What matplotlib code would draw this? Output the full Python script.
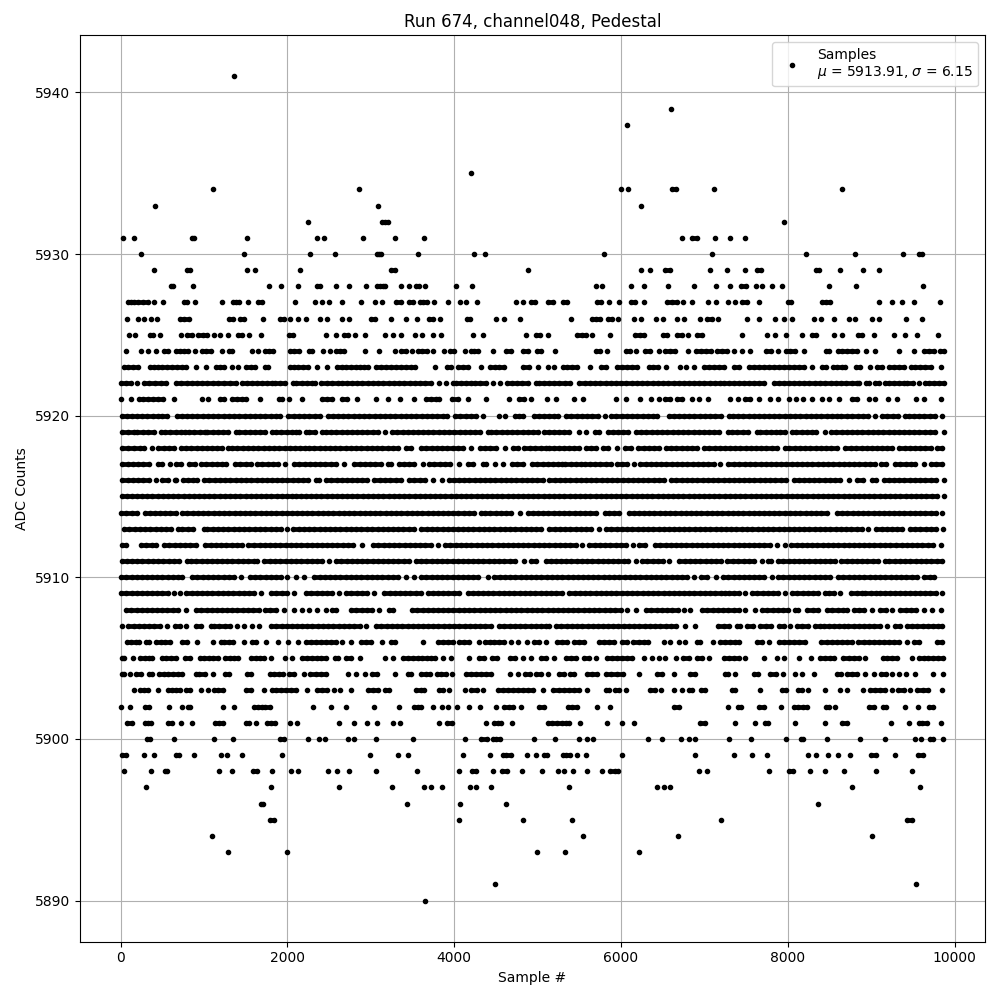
#!/usr/bin/env python3
"""Pedestal samples for channel048, run 674. ADC counts are integers, so samples are kept per level."""
import matplotlib
matplotlib.use("Agg")
import matplotlib.pyplot as plt

# ── Sample numbers, one list per ADC level ────────────────────────────────────
# Outer levels
s5941 = [1364]
s5939 = [6600]
s5938 = [6072]
s5935 = [4196]
s5934 = [1112, 2864, 6000, 6084, 6612, 6664, 7116, 8652]
s5933 = [416, 3080, 6240]
s5932 = [2252, 3128, 3164, 3200, 7956]
s5931 = [32, 164, 852, 880, 1520, 2360, 2444, 2912, 3284, 3632, 6732, 6852, 6912, 7128, 7308, 7488]
s5930 = [248, 1484, 2276, 2576, 3068, 3092, 3120, 3560, 4232, 4364, 5796, 7092, 8220, 8808, 9384, 9576, 9612]
s5929 = [404, 800, 836, 1520, 1616, 2156, 3236, 3284, 4880, 6240, 6348, 6528, 6588, 7068, 7272, 7488, 7632,
         7680, 8340, 8372, 8628, 8904, 9096]
s5928 = [608, 628, 872, 1784, 1928, 2132, 2360, 2396, 2588, 2744, 2948, 3068, 3104, 3140, 3164, 3356, 3452,
         3540, 3572, 3644, 4016, 4208, 5700, 5772, 6120, 6276, 6564, 6876, 7140, 7308, 7440, 7500, 7620, 7692,
         7812, 7932, 8496, 8820, 9624]
s5927 = [92, 128, 164, 212, 272, 332, 404, 512, 764, 800, 888, 1220, 1352, 1388, 1424, 1532, 1652, 1700, 2096,
         2336, 2420, 2504, 2660, 2888, 3044, 3128, 3296, 3356, 3452, 3500, 3584, 3620, 3668, 3752, 3920, 4064,
         4136, 4268, 4736, 4820, 4916, 4964, 5120, 5180, 5300, 5348, 5712, 5760, 5856, 5976, 6120, 6168, 6276,
         6552, 6612, 6672, 6744, 6852, 7044, 7140, 7284, 7368, 7452, 7512, 7656, 8004, 8040, 8412, 8460, 8508,
         9096, 9252, 9372, 9516, 9828]
s5926 = [80, 212, 284, 368, 440, 716, 764, 824, 1304, 1352, 1436, 1484, 1712, 1916, 1964, 2036, 2132, 2228, 2396,
         2480, 2660, 2744, 2996, 3044, 3236, 3416, 3548, 3692, 3740, 3824, 4148, 4184, 4496, 4592, 4784, 5400,
         5652, 5700, 5748, 5844, 5892, 5964, 6156, 6240, 6420, 6504, 6672, 6756, 6948, 7032, 7092, 7164, 7512,
         7656, 7848, 7956, 8052, 8316, 8400, 8556, 8736, 8808, 9012, 9096, 9420, 9612]
s5925 = [104, 176, 356, 392, 476, 728, 800, 860, 932, 992, 1040, 1124, 1196, 1292, 1412, 1460, 1544, 1688, 2024,
         2072, 2468, 2588, 2684, 2732, 2816, 2936, 3164, 3260, 3356, 3524, 3608, 3740, 3836, 4220, 4340, 4856,
         4976, 5024, 5120, 5472, 5532, 5580, 5652, 5868, 6168, 6228, 6276, 6504, 6552, 6672, 6732, 6804, 6912,
         6972, 7452, 7752, 7848, 7980, 8172, 8292, 8340, 8556, 8652, 8844, 8892, 9036, 9276, 9408, 9552, 9804]
s5924 = [64, 248, 332, 428, 524, 572, 668, 716, 764, 812, 896, 980, 1028, 1088, 1220, 1304, 1340, 1580, 1652,
         1736, 1784, 1832, 2036, 2084, 2144, 2264, 2300, 2432, 2516, 2588, 2636, 2684, 2936, 3092, 3284, 3356,
         3416, 3488, 3560, 3608, 3668, 3740, 3872, 3944, 3992, 4124, 4196, 4232, 4280, 4460, 4616, 4676, 4820,
         4880, 4988, 5036, 5204, 5700, 5748, 5832, 6060, 6108, 6180, 6288, 6348, 6456, 6528, 6588, 6648, 6804,
         6900, 6960, 7020, 7080, 7152, 7212, 7272, 7356, 7452, 7548, 7740, 7800, 7884, 7980, 8028, 8092, 8196,
         8460, 8496, 8604, 8652, 8712, 8772, 8832, 8940, 9048, 9336, 9516, 9636, 9696, 9756, 9828, 9868]
s5923 = [40, 92, 152, 212, 352, 400, 452, 500, 560, 620, 680, 740, 780, 908, 1028, 1148, 1196, 1244, 1340, 1412,
         1508, 1560, 1612, 1728, 1772, 2032, 2080, 2132, 2188, 2252, 2360, 2472, 2600, 2652, 2708, 2760, 2820,
         2868, 2920, 2972, 3060, 3120, 3180, 3240, 3300, 3360, 3420, 3480, 3532, 3764, 3908, 3956, 4040, 4100,
         4160, 4316, 4428, 4484, 4540, 4592, 4828, 4892, 5004, 5120, 5192, 5300, 5352, 5412, 5472, 5628, 5756,
         5820, 5948, 6012, 6072, 6132, 6192, 6332, 6380, 6444, 6540, 6708, 6780, 6876, 6996, 7052, 7116, 7172,
         7236, 7352, 7412, 7532, 7592, 7652, 7712, 7772, 7832, 7892, 7952, 8012, 8072, 8132, 8192, 8292, 8412,
         8460, 8540, 8592, 8652, 8692, 8820, 8872, 8988, 9072, 9132, 9212, 9272, 9332, 9392, 9476, 9532, 9592,
         9652, 9712, 9832]
s5921 = [0, 128, 220, 272, 332, 392, 452, 508, 640, 972, 1052, 1188, 1240, 1340, 1400, 1460, 1500, 1676, 1900,
         1940, 2024, 2180, 2420, 2480, 2532, 2660, 2720, 2840, 3056, 3200, 3344, 3512, 3660, 3720, 3780, 3820,
         3972, 4040, 4160, 4376, 4652, 4772, 4832, 4920, 5108, 5220, 5436, 5544, 5940, 6060, 6228, 6360, 6460,
         6532, 6592, 6672, 6732, 6852, 6940, 7044, 7308, 7404, 7492, 7552, 7660, 7788, 7884, 8012, 8100, 8184,
         8288, 8412, 8492, 8620, 8772, 8832, 8972, 9052, 9204, 9312, 9540, 9636, 9840]

# Dense levels, where the dots overlap into strips
s5922 = [0, 60, 120, 200, 280, 340, 410, 480, 540, 660, 725, 790, 850, 915, 980, 1040, 1105, 1170, 1240, 1310, 1380,
         1452, 1520, 1580, 1640, 1700, 1760, 1812, 1848, 1910, 1970, 2072, 2108, 2170, 2235, 2300, 2328, 2400, 2470,
         2540, 2608, 2652, 2715, 2780, 2840, 2900, 2965, 3030, 3090, 3150, 3215, 3280, 3340, 3400, 3465, 3530, 3590,
         3650, 3720, 3820, 3900, 3980, 4020, 4080, 4140, 4200, 4248, 4310, 4380, 4460, 4548, 4628, 4690, 4750, 4815,
         4880, 4980, 5012, 5075, 5140, 5200, 5260, 5325, 5392, 5500, 5565, 5630, 5690, 5750, 5815, 5880, 5940, 6000,
         6065, 6130, 6190, 6250, 6315, 6380, 6440, 6500, 6565, 6630, 6690, 6750, 6815, 6880, 6940, 7000, 7065, 7130,
         7192, 7232, 7295, 7360, 7420, 7480, 7540, 7600, 7660, 7712, 7840, 7900, 7960, 8020, 8072, 8135, 8200, 8260,
         8325, 8392, 8452, 8515, 8580, 8640, 8700, 8765, 8832, 8852, 8940, 8980, 9052, 9100, 9172, 9220, 9280, 9340,
         9392, 9432, 9500, 9575, 9652, 9692, 9755, 9815, 9868]
s5920 = [12, 75, 140, 200, 260, 320, 385, 450, 500, 556, 672, 735, 800, 860, 920, 985, 1050, 1110, 1170, 1235, 1300,
         1360, 1420, 1485, 1550, 1610, 1670, 1735, 1800, 1860, 1908, 2012, 2075, 2140, 2200, 2260, 2325, 2388, 2484,
         2545, 2610, 2670, 2730, 2795, 2860, 2920, 2980, 3045, 3110, 3170, 3230, 3295, 3360, 3420, 3480, 3545, 3610,
         3670, 3730, 3795, 3860, 3908, 4012, 4075, 4140, 4200, 4260, 4348, 4532, 4608, 4732, 4780, 4828, 4952, 5015,
         5080, 5140, 5200, 5244, 5344, 5405, 5470, 5530, 5590, 5655, 5720, 5812, 5884, 5945, 6010, 6070, 6130, 6195,
         6260, 6320, 6380, 6432, 6572, 6635, 6700, 6752, 6820, 6880, 6945, 7010, 7070, 7130, 7195, 7292, 7340, 7400,
         7465, 7530, 7590, 7650, 7715, 7780, 7840, 7900, 7965, 8030, 8090, 8150, 8215, 8280, 8340, 8400, 8465, 8530,
         8590, 8644, 8712, 8775, 8840, 8900, 8960, 9052, 9132, 9195, 9260, 9320, 9412, 9452, 9515, 9580, 9640, 9700,
         9765, 9852]
s5919 = [20, 90, 160, 200, 265, 330, 400, 480, 532, 595, 660, 720, 772, 820, 885, 950, 1012, 1040, 1105, 1170, 1230,
         1290, 1380, 1420, 1485, 1550, 1610, 1670, 1735, 1820, 1860, 1925, 1990, 2050, 2100, 2140, 2220, 2260, 2325,
         2420, 2460, 2520, 2585, 2650, 2710, 2770, 2835, 2900, 2960, 3020, 3085, 3172, 3252, 3315, 3380, 3440, 3500,
         3565, 3630, 3690, 3750, 3815, 3880, 3940, 4000, 4065, 4130, 4190, 4250, 4315, 4400, 4440, 4505, 4570, 4630,
         4690, 4755, 4820, 4880, 4940, 5005, 5080, 5132, 5195, 5260, 5320, 5372, 5492, 5580, 5692, 5740, 5844, 5905,
         5970, 6030, 6084, 6180, 6240, 6305, 6370, 6430, 6490, 6555, 6620, 6680, 6740, 6805, 6870, 6930, 6990, 7055,
         7120, 7180, 7284, 7332, 7395, 7460, 7520, 7632, 7672, 7735, 7800, 7860, 7912, 7972, 8052, 8100, 8165, 8230,
         8292, 8340, 8444, 8516, 8580, 8645, 8710, 8770, 8830, 8895, 8960, 9020, 9080, 9145, 9210, 9270, 9330, 9395,
         9460, 9520, 9580, 9645, 9710, 9770, 9872]
s5918 = [20, 90, 160, 228, 280, 380, 452, 515, 580, 640, 720, 780, 845, 910, 970, 1030, 1095, 1160, 1220, 1292, 1340,
         1400, 1465, 1530, 1590, 1650, 1715, 1780, 1840, 1900, 1965, 2030, 2090, 2150, 2215, 2260, 2320, 2385, 2450,
         2510, 2570, 2635, 2700, 2760, 2820, 2885, 2950, 3010, 3070, 3135, 3200, 3260, 3320, 3420, 3480, 3600, 3665,
         3730, 3790, 3850, 3915, 3980, 4040, 4100, 4200, 4308, 4370, 4435, 4500, 4612, 4700, 4760, 4840, 4905, 4970,
         5040, 5100, 5140, 5200, 5252, 5320, 5380, 5440, 5500, 5580, 5640, 5700, 5780, 5845, 5952, 6052, 6115, 6204,
         6272, 6335, 6400, 6460, 6540, 6604, 6665, 6730, 6795, 6855, 6915, 6992, 7060, 7125, 7190, 7250, 7310, 7372,
         7432, 7495, 7560, 7620, 7680, 7745, 7810, 7870, 7972, 8020, 8085, 8150, 8210, 8270, 8335, 8400, 8460, 8520,
         8585, 8692, 8756, 8820, 8885, 8945, 9005, 9070, 9135, 9195, 9255, 9340, 9404, 9465, 9530, 9590, 9650, 9715,
         9792, 9852]
s5917 = [20, 85, 150, 210, 270, 340, 452, 492, 588, 660, 725, 820, 888, 960, 1025, 1090, 1150, 1210, 1268, 1372,
         1435, 1500, 1560, 1640, 1700, 1765, 1830, 1890, 1968, 2076, 2140, 2205, 2265, 2325, 2390, 2455, 2520, 2588,
         2680, 2800, 2865, 2930, 2990, 3050, 3120, 3200, 3240, 3332, 3395, 3460, 3520, 3620, 3700, 3760, 3825, 3890,
         3950, 4052, 4160, 4225, 4340, 4380, 4488, 4588, 4692, 4755, 4820, 4932, 4995, 5060, 5120, 5180, 5240, 5292,
         5332, 5395, 5460, 5520, 5572, 5624, 5685, 5750, 5815, 5875, 5952, 6012, 6075, 6152, 6232, 6295, 6360, 6420,
         6480, 6545, 6610, 6670, 6730, 6795, 6860, 6920, 6980, 7045, 7110, 7192, 7284, 7350, 7420, 7484, 7545, 7610,
         7675, 7735, 7795, 7860, 7925, 7985, 8045, 8110, 8175, 8235, 8295, 8360, 8425, 8485, 8545, 8610, 8675, 8735,
         8795, 8860, 8925, 8985, 9045, 9124, 9180, 9284, 9352, 9415, 9480, 9524, 9632, 9712, 9780, 9844]
s5916 = [20, 85, 150, 210, 270, 335, 420, 500, 570, 652, 668, 748, 810, 870, 920, 1000, 1065, 1130, 1190, 1250, 1315,
         1380, 1440, 1500, 1565, 1630, 1690, 1750, 1815, 1880, 1940, 2000, 2065, 2130, 2190, 2250, 2340, 2380, 2460,
         2525, 2590, 2650, 2710, 2775, 2840, 2900, 2960, 3040, 3108, 3170, 3235, 3300, 3360, 3460, 3520, 3588, 3650,
         3748, 3848, 3932, 3995, 4060, 4120, 4180, 4245, 4310, 4370, 4430, 4495, 4560, 4620, 4680, 4745, 4810, 4870,
         4930, 4995, 5060, 5140, 5205, 5270, 5330, 5390, 5455, 5520, 5580, 5640, 5705, 5770, 5832, 5892, 5955, 6020,
         6080, 6140, 6205, 6270, 6330, 6390, 6455, 6512, 6604, 6665, 6730, 6790, 6850, 6915, 6980, 7040, 7100, 7165,
         7230, 7290, 7350, 7415, 7480, 7540, 7600, 7665, 7730, 7790, 7850, 7915, 7980, 8072, 8132, 8195, 8260, 8320,
         8380, 8445, 8510, 8570, 8630, 8732, 8832, 8900, 9012, 9060, 9152, 9215, 9280, 9340, 9400, 9465, 9530, 9590,
         9650, 9715, 9780, 9872]
s5915 = [12, 72, 135, 195, 258, 320, 380, 445, 505, 568, 630, 690, 755, 815, 878, 940, 1000, 1065, 1125, 1188, 1250,
         1310, 1375, 1435, 1498, 1560, 1620, 1685, 1745, 1808, 1870, 1930, 1995, 2050, 2100, 2160, 2222, 2285, 2345,
         2408, 2470, 2530, 2595, 2655, 2718, 2780, 2840, 2905, 2965, 3028, 3090, 3150, 3215, 3275, 3338, 3400, 3460,
         3525, 3585, 3648, 3710, 3770, 3835, 3895, 3958, 4020, 4080, 4145, 4205, 4268, 4330, 4390, 4455, 4515, 4578,
         4640, 4700, 4765, 4825, 4888, 4950, 5010, 5075, 5135, 5198, 5260, 5320, 5385, 5445, 5508, 5570, 5630, 5695,
         5755, 5818, 5880, 5940, 6005, 6065, 6128, 6190, 6250, 6315, 6375, 6438, 6500, 6560, 6625, 6685, 6748, 6810,
         6870, 6935, 6995, 7058, 7120, 7180, 7245, 7305, 7368, 7430, 7490, 7555, 7615, 7678, 7740, 7800, 7865, 7925,
         7988, 8050, 8110, 8175, 8235, 8298, 8360, 8420, 8485, 8545, 8608, 8670, 8730, 8795, 8855, 8918, 8980, 9040,
         9105, 9165, 9228, 9290, 9350, 9415, 9475, 9538, 9600, 9660, 9725, 9785, 9872]
s5914 = [0, 68, 130, 195, 292, 348, 410, 475, 535, 595, 660, 740, 800, 865, 930, 990, 1050, 1115, 1180, 1240, 1300,
         1365, 1430, 1490, 1550, 1615, 1680, 1740, 1800, 1865, 1930, 1990, 2050, 2115, 2180, 2240, 2300, 2365, 2430,
         2490, 2550, 2615, 2680, 2740, 2800, 2865, 2930, 2990, 3050, 3115, 3180, 3240, 3300, 3365, 3430, 3490, 3550,
         3615, 3680, 3740, 3800, 3865, 3930, 3990, 4050, 4115, 4180, 4240, 4320, 4372, 4435, 4500, 4560, 4620, 4685,
         4788, 4880, 4945, 5010, 5070, 5130, 5195, 5260, 5320, 5380, 5445, 5510, 5570, 5630, 5695, 5804, 5852, 5915,
         5980, 6092, 6152, 6215, 6280, 6340, 6400, 6465, 6530, 6590, 6650, 6715, 6780, 6840, 6900, 6965, 7030, 7090,
         7150, 7215, 7280, 7340, 7400, 7465, 7530, 7590, 7650, 7715, 7780, 7840, 7900, 7965, 8030, 8090, 8150, 8215,
         8280, 8340, 8400, 8465, 8592, 8652, 8715, 8780, 8840, 8900, 8965, 9030, 9090, 9150, 9215, 9280, 9340, 9400,
         9465, 9530, 9590, 9650, 9715, 9780, 9852]
s5913 = [44, 105, 170, 235, 295, 355, 420, 485, 545, 605, 692, 740, 805, 870, 1000, 1040, 1105, 1170, 1230, 1290,
         1355, 1420, 1480, 1540, 1605, 1670, 1730, 1800, 1860, 1925, 2000, 2072, 2135, 2200, 2260, 2320, 2385, 2450,
         2510, 2570, 2635, 2700, 2760, 2820, 2885, 2950, 3010, 3080, 3140, 3205, 3270, 3330, 3390, 3455, 3520, 3600,
         3668, 3730, 3795, 3860, 3920, 3980, 4045, 4110, 4170, 4230, 4295, 4360, 4420, 4480, 4545, 4610, 4670, 4730,
         4795, 4860, 4920, 4980, 5045, 5140, 5205, 5270, 5330, 5390, 5455, 5520, 5580, 5640, 5732, 5820, 5885, 5950,
         6010, 6070, 6135, 6200, 6260, 6320, 6385, 6450, 6510, 6570, 6635, 6700, 6760, 6820, 6885, 6950, 7010, 7070,
         7135, 7200, 7260, 7320, 7385, 7452, 7512, 7575, 7640, 7700, 7760, 7825, 7890, 7950, 8010, 8075, 8140, 8200,
         8260, 8325, 8390, 8450, 8510, 8575, 8640, 8700, 8760, 8825, 8890, 8964, 9064, 9125, 9190, 9250, 9310, 9375,
         9472, 9524, 9590, 9655, 9715, 9775, 9860]
s5912 = [12, 68, 240, 305, 370, 420, 520, 585, 650, 710, 770, 835, 900, 1012, 1080, 1140, 1200, 1265, 1330, 1390,
         1450, 1532, 1600, 1665, 1730, 1790, 1850, 1915, 1980, 2040, 2100, 2165, 2230, 2290, 2350, 2415, 2480, 2540,
         2600, 2665, 2730, 2790, 2900, 3028, 3090, 3155, 3220, 3280, 3340, 3405, 3470, 3530, 3590, 3655, 3720, 3800,
         3892, 3955, 4020, 4080, 4140, 4205, 4270, 4330, 4390, 4455, 4520, 4580, 4640, 4705, 4770, 4830, 4890, 4955,
         5020, 5080, 5140, 5205, 5270, 5330, 5390, 5455, 5532, 5620, 5685, 5750, 5810, 5870, 5935, 6000, 6060, 6140,
         6220, 6285, 6404, 6472, 6535, 6600, 6660, 6720, 6785, 6850, 6910, 6970, 7035, 7100, 7160, 7220, 7285, 7350,
         7410, 7470, 7535, 7600, 7660, 7720, 7785, 7872, 7964, 8044, 8105, 8170, 8230, 8290, 8355, 8420, 8480, 8540,
         8605, 8670, 8730, 8790, 8855, 8920, 8980, 9040, 9105, 9170, 9232, 9300, 9365, 9430, 9490, 9550, 9615, 9680,
         9740, 9832]
s5911 = [12, 75, 140, 200, 260, 325, 390, 450, 510, 575, 640, 700, 800, 840, 905, 970, 1030, 1090, 1155, 1220, 1280,
         1340, 1405, 1470, 1530, 1600, 1640, 1720, 1788, 1850, 1915, 1980, 2040, 2100, 2165, 2230, 2290, 2350, 2415,
         2500, 2580, 2645, 2710, 2770, 2830, 2895, 2960, 3020, 3080, 3145, 3210, 3270, 3330, 3395, 3460, 3540, 3600,
         3665, 3730, 3790, 3850, 3915, 3980, 4040, 4100, 4165, 4230, 4290, 4350, 4415, 4480, 4540, 4600, 4665, 4730,
         4840, 4920, 4985, 5100, 5156, 5220, 5285, 5345, 5405, 5470, 5535, 5595, 5655, 5720, 5785, 5845, 5905, 5970,
         6032, 6084, 6180, 6252, 6315, 6380, 6440, 6500, 6572, 6700, 6765, 6830, 6890, 6950, 7015, 7080, 7140, 7200,
         7272, 7340, 7405, 7470, 7530, 7590, 7692, 7764, 7804, 7884, 7945, 8010, 8075, 8135, 8195, 8260, 8325, 8385,
         8445, 8510, 8572, 8644, 8705, 8770, 8835, 8895, 8955, 9020, 9085, 9172, 9220, 9285, 9350, 9410, 9470, 9535,
         9600, 9660, 9720, 9785, 9852]
s5910 = [0, 65, 130, 190, 250, 315, 380, 440, 500, 565, 630, 690, 740, 860, 920, 985, 1050, 1110, 1170, 1235, 1300,
         1360, 1440, 1548, 1610, 1675, 1740, 1800, 1860, 1925, 2000, 2100, 2200, 2320, 2385, 2450, 2510, 2570, 2635,
         2700, 2760, 2820, 2885, 2950, 3010, 3070, 3135, 3200, 3260, 3320, 3420, 3512, 3600, 3665, 3730, 3790, 3850,
         3915, 3980, 4040, 4100, 4165, 4230, 4290, 4400, 4480, 4545, 4610, 4670, 4730, 4795, 4860, 4920, 4980, 5045,
         5110, 5170, 5230, 5295, 5360, 5420, 5480, 5545, 5610, 5670, 5730, 5795, 5860, 5920, 5980, 6045, 6110, 6170,
         6230, 6295, 6360, 6420, 6480, 6545, 6610, 6670, 6730, 6795, 6872, 6964, 7030, 7140, 7220, 7285, 7350, 7410,
         7470, 7535, 7600, 7660, 7720, 7812, 7884, 7945, 8010, 8075, 8135, 8195, 8260, 8325, 8385, 8445, 8512, 8604,
         8665, 8732, 8792, 8855, 8920, 8985, 9045, 9105, 9170, 9235, 9295, 9355, 9420, 9485, 9552, 9636, 9700, 9756]
s5909 = [0, 65, 130, 190, 250, 315, 380, 440, 500, 565, 640, 712, 788, 850, 915, 980, 1040, 1100, 1165, 1230, 1290,
         1350, 1415, 1480, 1540, 1600, 1680, 1800, 1865, 1930, 2000, 2080, 2220, 2285, 2350, 2410, 2470, 2535, 2620,
         2700, 2765, 2830, 2890, 2950, 3040, 3160, 3225, 3290, 3350, 3410, 3475, 3540, 3600, 3680, 3745, 3810, 3870,
         3930, 3995, 4060, 4160, 4220, 4285, 4350, 4410, 4470, 4535, 4600, 4660, 4720, 4785, 4850, 4910, 4970, 5035,
         5100, 5160, 5225, 5292, 5380, 5444, 5510, 5570, 5630, 5695, 5760, 5820, 5880, 5945, 6010, 6070, 6130, 6195,
         6260, 6320, 6380, 6445, 6510, 6570, 6630, 6695, 6760, 6820, 6880, 6945, 7010, 7070, 7130, 7195, 7252, 7292,
         7355, 7420, 7492, 7572, 7635, 7700, 7760, 7820, 7885, 7972, 8052, 8115, 8180, 8240, 8300, 8365, 8452, 8492,
         8560, 8632, 8764, 8830, 8892, 8932, 8995, 9060, 9112, 9164, 9225, 9290, 9350, 9412, 9464, 9525, 9590, 9650,
         9710, 9775, 9852]
s5908 = [60, 125, 190, 250, 310, 375, 440, 500, 560, 625, 690, 780, 900, 965, 1030, 1090, 1150, 1215, 1280, 1340,
         1400, 1465, 1530, 1590, 1660, 1732, 1795, 1860, 1960, 2080, 2180, 2260, 2360, 2460, 2540, 2588, 2760, 2825,
         2890, 2950, 3010, 3100, 3220, 3260, 3492, 3555, 3620, 3680, 3740, 3805, 3870, 3930, 3990, 4055, 4120, 4180,
         4240, 4305, 4370, 4430, 4490, 4555, 4620, 4680, 4740, 4805, 4870, 4930, 4990, 5055, 5120, 5180, 5240, 5305,
         5370, 5430, 5490, 5555, 5620, 5680, 5740, 5805, 5870, 5930, 6000, 6072, 6180, 6300, 6365, 6430, 6490, 6550,
         6615, 6680, 6752, 6832, 6972, 7035, 7100, 7160, 7220, 7285, 7350, 7410, 7492, 7604, 7692, 7755, 7820, 7880,
         7940, 8005, 8092, 8124, 8232, 8300, 8364, 8472, 8535, 8600, 8660, 8712, 8792, 8855, 8920, 9012, 9112, 9180,
         9252, 9352, 9415, 9480, 9540, 9632, 9724, 9840]
s5907 = [12, 92, 155, 220, 280, 340, 405, 470, 560, 652, 715, 788, 900, 965, 1080, 1120, 1185, 1250, 1310, 1400,
         1480, 1572, 1660, 1800, 1865, 1930, 1990, 2050, 2115, 2180, 2240, 2300, 2365, 2430, 2490, 2550, 2615, 2680,
         2740, 2800, 2865, 2940, 3060, 3125, 3190, 3250, 3310, 3375, 3440, 3500, 3560, 3625, 3690, 3750, 3810, 3875,
         3940, 4000, 4060, 4125, 4190, 4250, 4310, 4375, 4440, 4540, 4600, 4665, 4730, 4790, 4850, 4915, 4980, 5040,
         5100, 5140, 5220, 5285, 5350, 5410, 5470, 5535, 5600, 5660, 5720, 5785, 5850, 5910, 5970, 6035, 6100, 6160,
         6220, 6285, 6350, 6410, 6470, 6535, 6600, 6660, 6772, 6892, 7164, 7230, 7295, 7392, 7432, 7512, 7580, 7672,
         7735, 7800, 7892, 7952, 8032, 8112, 8175, 8240, 8332, 8392, 8432, 8492, 8555, 8620, 8672, 8724, 8792, 8855,
         8920, 8980, 9040, 9105, 9192, 9284, 9350, 9432, 9492, 9555, 9620, 9680, 9740, 9805, 9852]

# Lower levels
s5906 = [80, 128, 180, 220, 300, 340, 428, 480, 532, 588, 740, 800, 912, 1112, 1200, 1240, 1300, 1352, 1484, 1580,
         1628, 1748, 1892, 2012, 2124, 2228, 2280, 2340, 2400, 2460, 2520, 2580, 2652, 2764, 2880, 2940, 3000, 3132,
         3240, 3292, 3620, 3800, 3860, 3920, 3980, 4052, 4120, 4180, 4292, 4372, 4428, 4480, 4540, 4600, 4680, 4760,
         4868, 4960, 5020, 5100, 5232, 5292, 5352, 5432, 5492, 5552, 5740, 5800, 5852, 5920, 6012, 6072, 6144, 6212,
         6272, 6324, 6516, 6592, 6692, 6772, 6912, 6952, 7104, 7192, 7252, 7312, 7372, 7420, 7632, 7692, 7772, 7892,
         7952, 8012, 8072, 8140, 8204, 8404, 8472, 8532, 8592, 8652, 8712, 8772, 8844, 8912, 8972, 9032, 9092, 9152,
         9212, 9272, 9332, 9432, 9512, 9572, 9792, 9852]
s5905 = [12, 44, 144, 236, 292, 340, 380, 500, 548, 600, 668, 772, 836, 948, 1000, 1060, 1108, 1172, 1252, 1308,
         1360, 1412, 1564, 1620, 1676, 1724, 1800, 1968, 2060, 2180, 2240, 2300, 2360, 2400, 2460, 2572, 2612, 2708,
         2764, 2876, 3172, 3260, 3380, 3440, 3500, 3560, 3612, 3668, 3720, 3772, 3868, 3960, 4172, 4300, 4360, 4452,
         4508, 4668, 4732, 4828, 4920, 5044, 5100, 5200, 5344, 5404, 5464, 5560, 5620, 5704, 5832, 5892, 5952, 6012,
         6072, 6132, 6276, 6372, 6452, 6524, 6660, 6744, 6812, 6912, 6972, 7052, 7232, 7292, 7352, 7420, 7492, 7712,
         7872, 7960, 8132, 8284, 8392, 8452, 8512, 8552, 8664, 8732, 8792, 8852, 8924, 9140, 9192, 9252, 9312, 9492,
         9580, 9632, 9684, 9740, 9796, 9864]
s5904 = [12, 44, 116, 188, 248, 340, 372, 460, 520, 572, 628, 692, 740, 900, 940, 1008, 1112, 1252, 1300, 1520, 1564,
         1788, 1840, 1900, 1948, 2020, 2084, 2204, 2276, 2340, 2400, 2460, 2724, 2828, 2936, 3012, 3068, 3284, 3440,
         3480, 3596, 3660, 3708, 3788, 3836, 3900, 3972, 4140, 4200, 4260, 4320, 4380, 4440, 4668, 4764, 4844, 4908,
         4980, 5040, 5120, 5252, 5312, 5392, 5440, 5592, 5652, 5712, 5824, 5884, 5952, 6020, 6212, 6432, 6492, 6636,
         6832, 6884, 7252, 7284, 7368, 7592, 7644, 7792, 7860, 7948, 8084, 8172, 8316, 8592, 8640, 8712, 8772, 8832,
         8928, 9036, 9124, 9180, 9252, 9332, 9420, 9524, 9744, 9856]
s5903 = [164, 236, 284, 332, 452, 572, 620, 668, 716, 788, 828, 968, 1052, 1124, 1172, 1228, 1508, 1564, 1724, 1812,
         1860, 1920, 1980, 2040, 2100, 2236, 2360, 2420, 2480, 2556, 2628, 2768, 2972, 3020, 3080, 3172, 3212, 3540,
         3600, 3640, 3812, 3868, 3940, 4124, 4204, 4268, 4348, 4520, 4580, 4640, 4700, 4760, 4820, 4880, 4948, 5068,
         5184, 5252, 5312, 5372, 5432, 5492, 5596, 5820, 5860, 5932, 5980, 6060, 6352, 6412, 6484, 6636, 6732, 6820,
         6852, 6960, 7012, 7332, 7364, 7668, 7932, 7980, 8124, 8172, 8244, 8444, 8628, 8712, 8900, 8992, 9052, 9112,
         9172, 9252, 9324, 9392, 9472, 9552, 9620, 9688, 9848]
s5902 = [0, 108, 288, 336, 584, 740, 812, 836, 1232, 1364, 1604, 1652, 1700, 1732, 1796, 2312, 2528, 2708, 3032, 3332,
         3512, 3560, 3596, 3748, 3848, 3920, 4028, 4172, 4312, 4496, 4592, 4652, 4700, 4796, 5012, 5072, 5364, 5412,
         5472, 5712, 5868, 6636, 6700, 7284, 7404, 7440, 7656, 7716, 7920, 8076, 8124, 8184, 8232, 8460, 8496, 8568,
         8976, 9036, 9144, 9184, 9408, 9564, 9692, 9740]
s5901 = [80, 140, 296, 332, 364, 572, 620, 728, 860, 1136, 1184, 1232, 1500, 1544, 1628, 1760, 1808, 1856, 2036, 2120,
         2624, 2800, 2960, 3068, 3260, 3344, 3812, 3908, 3968, 4376, 4472, 4520, 4556, 4688, 5120, 5172, 5232, 5292,
         5340, 5376, 5508, 5832, 6012, 6156, 6948, 7008, 7368, 7608, 7728, 7764, 8088, 8448, 8652, 8712, 9240, 9456,
         9576, 9612, 9672, 9840]
s5900 = [320, 348, 644, 1124, 1352, 1916, 1964, 2252, 2384, 2456, 2732, 2804, 3056, 3500, 4124, 4320, 4388, 4460,
         4500, 4548, 4952, 5208, 5496, 5592, 5664, 6324, 6492, 6720, 6816, 6888, 7296, 7560, 7980, 8160, 8184, 8472,
         8868, 9168, 9524, 9600, 9708, 9744, 9864]
s5899 = [20, 68, 284, 404, 668, 704, 884, 1208, 1280, 1460, 1940, 2984, 3320, 3440, 4100, 4424, 4580, 4616, 4676,
         4868, 4976, 5072, 5108, 5304, 5340, 5388, 5472, 5580, 6012, 6888, 7356, 7572, 7752, 8244, 8340, 8484, 8604,
         8748, 9000, 9060, 9288, 9564, 9624]
s5898 = [44, 368, 536, 560, 1184, 1340, 1592, 1640, 1820, 2048, 2132, 2492, 2600, 2744, 3056, 3548, 4052, 4208, 4256,
         4460, 4568, 4628, 4808, 5048, 5244, 5316, 5424, 5592, 5772, 5868, 5928, 5964, 6936, 7032, 7776, 8016, 8064,
         8268, 8448, 8676, 9060, 9492]
s5897 = [308, 1808, 2624, 3248, 3632, 3716, 3848, 4184, 4256, 4436, 5376, 6432, 6516, 6588, 8772, 9588]
s5896 = [1688, 1712, 3428, 4064, 4616, 8364]
s5895 = [1796, 1844, 4052, 4820, 5412, 7200, 9432, 9492]
s5894 = [1100, 5544, 6684, 9012]
s5893 = [1292, 2000, 4988, 5328, 6216]
s5891 = [4484, 9540]
s5890 = [3644]

levels = [5941, 5939, 5938, 5935, 5934, 5933, 5932, 5931, 5930, 5929, 5928, 5927, 5926, 5925, 5924, 5923, 5922,
          5921, 5920, 5919, 5918, 5917, 5916, 5915, 5914, 5913, 5912, 5911, 5910, 5909, 5908, 5907, 5906, 5905,
          5904, 5903, 5902, 5901, 5900, 5899, 5898, 5897, 5896, 5895, 5894, 5893, 5891, 5890]
rows = [s5941, s5939, s5938, s5935, s5934, s5933, s5932, s5931, s5930, s5929, s5928, s5927, s5926, s5925, s5924,
        s5923, s5922, s5921, s5920, s5919, s5918, s5917, s5916, s5915, s5914, s5913, s5912, s5911, s5910, s5909,
        s5908, s5907, s5906, s5905, s5904, s5903, s5902, s5901, s5900, s5899, s5898, s5897, s5896, s5895, s5894,
        s5893, s5891, s5890]

mean_adc = 5913.91
std_adc = 6.15

TOUCHING = 70  # samples; neighbours this close overlap into a solid strip at this dot size


def main():
    xs, ys = [], []
    strip_y, strip_start, strip_stop = [], [], []
    for level, row in zip(levels, rows):
        xs.extend(row)
        ys.extend([level] * len(row))
        for a, b in zip(row[:-1], row[1:]):
            if b - a <= TOUCHING:
                strip_y.append(level)
                strip_start.append(a)
                strip_stop.append(b)

    fig, ax = plt.subplots(figsize=(10, 10))
    ax.plot(xs, ys, "k.", label=f"Samples\n$\\mu$ = {mean_adc:.2f}, $\\sigma$ = {std_adc:.2f}")
    # Fill the notches between overlapping dots
    ax.hlines(strip_y, strip_start, strip_stop, colors="k", linewidth=3.4, zorder=2)
    ax.set_title("Run 674, channel048, Pedestal")
    ax.set_xlabel("Sample #")
    ax.set_ylabel("ADC Counts")
    ax.grid(True)
    ax.legend(loc="upper right")
    plt.tight_layout()
    plt.subplots_adjust(top=0.965)
    plt.savefig("out.png", dpi=100)
    plt.close(fig)


if __name__ == "__main__":
    main()
